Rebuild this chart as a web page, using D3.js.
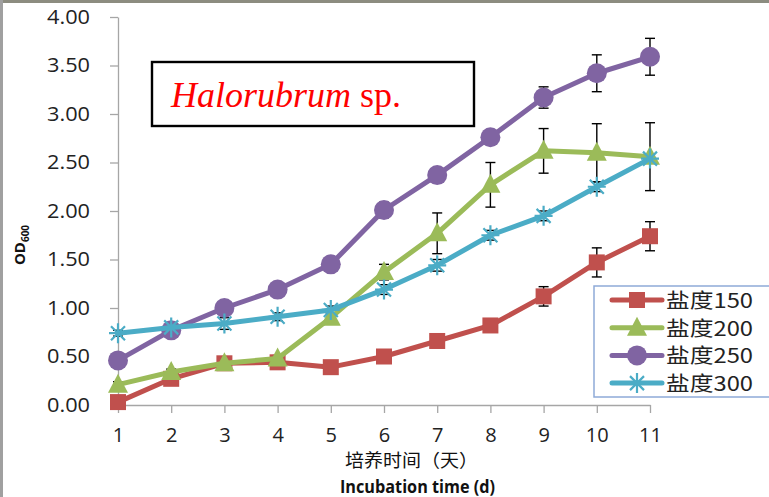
<!DOCTYPE html>
<html>
<head>
<meta charset="utf-8">
<script src="https://cdn.jsdelivr.net/npm/d3@7"></script>
<style>
  body { margin: 0; background: #fff; }
  svg { display: block; }
  .axis text { font-family: "Open Sans", "Liberation Sans", sans-serif; font-size: 20px; fill: #222; }
  .axis path, .axis line { stroke: #a6a6a6; stroke-width: 1.3; }
</style>
</head>
<body>
<div id="chart"></div>
<script>
var days = [1, 2, 3, 4, 5, 6, 7, 8, 9, 10, 11],
    yTicks = [0, 0.5, 1, 1.5, 2, 2.5, 3, 3.5, 4],
    names = ["盐度150", "盐度200", "盐度250", "盐度300"],
    colors = ["#c0504d", "#9bbb59", "#8064a2", "#4bacc6"],
    shapes = ["square", "triangle", "circle", "star"];

var od150 = [0.03, 0.27, 0.43, 0.44, 0.39, 0.50, 0.66, 0.82, 1.12, 1.47, 1.74],
    od200 = [0.21, 0.34, 0.43, 0.48, 0.90, 1.37, 1.77, 2.27, 2.62, 2.60, 2.56],
    od250 = [0.46, 0.77, 1.00, 1.19, 1.45, 2.01, 2.37, 2.76, 3.17, 3.42, 3.59],
    od300 = [0.74, 0.80, 0.84, 0.91, 0.98, 1.19, 1.44, 1.75, 1.95, 2.25, 2.54];

var err150 = [0.02, 0.03, 0.03, 0.03, 0.03, 0.03, 0.03, 0.03, 0.10, 0.15, 0.15],
    err200 = [0.03, 0.03, 0.03, 0.03, 0.05, 0.08, 0.21, 0.23, 0.23, 0.30, 0.35],
    err250 = [0.03, 0.03, 0.03, 0.06, 0.03, 0.08, 0.03, 0.03, 0.11, 0.19, 0.19],
    err300 = [0.03, 0.04, 0.06, 0.04, 0.04, 0.05, 0.06, 0.05, 0.05, 0.05, 0.04];

var series = [od150, od200, od250, od300],
    errors = [err150, err200, err250, err300];

var width = 769, height = 497;

var svg = d3.select("#chart").append("svg")
    .attr("width", width)
    .attr("height", height);

// frame of the pasted picture (top and left only)
svg.append("line").attr("x1", 0).attr("x2", width).attr("y1", 1.5).attr("y2", 1.5)
    .style("stroke", "#8c8c80").style("stroke-width", 3);
svg.append("line").attr("x1", 1.5).attr("x2", 1.5).attr("y1", 0).attr("y2", height)
    .style("stroke", "#a0a0a0").style("stroke-width", 3);

var x = d3.scaleLinear().domain([1, 11]).range([118, 650]),
    y = d3.scaleLinear().domain([0, 4]).range([405, 17]);

var ya = svg.append("g").attr("class", "axis")
    .attr("transform", "translate(" + x(1) + ",0)")
    .call(d3.axisLeft(y).tickValues(yTicks).tickFormat(d3.format(".2f"))
      .tickSize(8).tickSizeOuter(0).tickPadding(20));
ya.selectAll(".tick text").attr("textLength", 43).attr("lengthAdjust", "spacingAndGlyphs");

svg.append("g").attr("class", "axis")
    .attr("transform", "translate(0," + y(0) + ")")
    .call(d3.axisBottom(x).tickValues(days).tickFormat(d3.format("d"))
      .tickSize(8).tickSizeOuter(0).tickPadding(15));

// axis titles
svg.append("text").text("培养时间（天）")
    .attr("x", 345).attr("y", 467)
    .attr("textLength", 133).attr("lengthAdjust", "spacingAndGlyphs")
    .style("font-family", "Noto Sans CJK SC").style("font-size", "18px").style("fill", "#111");
svg.append("text").text("Incubation time (d)")
    .attr("x", 340).attr("y", 493)
    .attr("textLength", 155).attr("lengthAdjust", "spacingAndGlyphs")
    .style("font-family", "Open Sans, sans-serif").style("font-weight", "bold")
    .style("font-size", "17px").style("fill", "#111");

var yt = svg.append("text")
    .attr("transform", "translate(25,245) rotate(-90)")
    .style("text-anchor", "middle")
    .style("font-family", "Open Sans, sans-serif").style("font-weight", "bold").style("fill", "#111");
yt.append("tspan").text("OD").style("font-size", "15px");
yt.append("tspan").text("600").attr("dy", 4).style("font-size", "10px");

// title box
svg.append("rect").attr("x", 152).attr("y", 62).attr("width", 322).attr("height", 64)
    .style("fill", "#fff").style("stroke", "#000").style("stroke-width", 2.4);
var tt = svg.append("text").attr("x", 171).attr("y", 107)
    .style("font-family", "Liberation Serif, Times New Roman, serif")
    .style("font-size", "36px").style("fill", "#ff0000");
tt.append("tspan").text("Halorubrum").style("font-style", "italic");
tt.append("tspan").text(" sp.");

function marker(g, shape, color) {
  if (shape === "square") {
    g.append("rect").attr("x", -8).attr("y", -8).attr("width", 16).attr("height", 16)
      .style("fill", color);
  } else if (shape === "triangle") {
    g.append("path").attr("d", "M0,-11L10,8L-10,8Z").style("fill", color);
  } else if (shape === "circle") {
    g.append("circle").attr("r", 10).style("fill", color);
  } else {
    g.append("path")
      .attr("d", "M-9,0L9,0M0,-10L0,10M-7,-7L7,7M-7,7L7,-7")
      .style("stroke", color).style("stroke-width", 2.2).style("fill", "none");
  }
}

// error bars
series.forEach(function(s, k) {
  var eb = svg.append("g").selectAll("g")
      .data(days).enter().append("g")
      .style("stroke", "#000").style("stroke-width", 1.4);
  eb.append("line")
    .attr("x1", function(d) { return x(d); }).attr("x2", function(d) { return x(d); })
    .attr("y1", function(d, i) { return y(s[i] + errors[k][i]); })
    .attr("y2", function(d, i) { return y(s[i] - errors[k][i]); });
  eb.append("line")
    .attr("x1", function(d) { return x(d) - 5; }).attr("x2", function(d) { return x(d) + 5; })
    .attr("y1", function(d, i) { return y(s[i] + errors[k][i]); })
    .attr("y2", function(d, i) { return y(s[i] + errors[k][i]); });
  eb.append("line")
    .attr("x1", function(d) { return x(d) - 5; }).attr("x2", function(d) { return x(d) + 5; })
    .attr("y1", function(d, i) { return y(s[i] - errors[k][i]); })
    .attr("y2", function(d, i) { return y(s[i] - errors[k][i]); });
});

var line = d3.line()
    .x(function(d, i) { return x(days[i]); })
    .y(function(d) { return y(d); });

series.forEach(function(s, k) {
  svg.append("path").datum(s).attr("d", line)
    .style("fill", "none").style("stroke", colors[k]).style("stroke-width", 5)
    .style("stroke-linejoin", "round");
  svg.append("g").selectAll("g").data(s).enter().append("g")
    .attr("transform", function(d, i) { return "translate(" + x(days[i]) + "," + y(d) + ")"; })
    .each(function() { marker(d3.select(this), shapes[k], colors[k]); });
});

// legend
var lg = svg.append("g");
lg.append("rect").attr("x", 594).attr("y", 286).attr("width", 190).attr("height", 111)
    .style("fill", "#fff").style("stroke", "#8eaad8").style("stroke-width", 1.5);
var item = lg.selectAll(".item").data(names).enter().append("g")
    .attr("transform", function(d, i) { return "translate(0," + (300 + i * 27.7) + ")"; });
item.append("line").attr("x1", 612).attr("x2", 662)
    .style("stroke", function(d, i) { return colors[i]; }).style("stroke-width", 5)
    .style("stroke-linecap", "round");
item.append("g").attr("transform", "translate(637,0)")
    .each(function(d, i) { marker(d3.select(this), shapes[i], colors[i]); });
item.append("text").text(function(d) { return d; })
    .attr("x", 666).attr("y", 8)
    .attr("textLength", 87).attr("lengthAdjust", "spacingAndGlyphs")
    .style("font-family", "Noto Sans CJK SC").style("font-size", "20px").style("fill", "#222");
</script>
</body>
</html>
